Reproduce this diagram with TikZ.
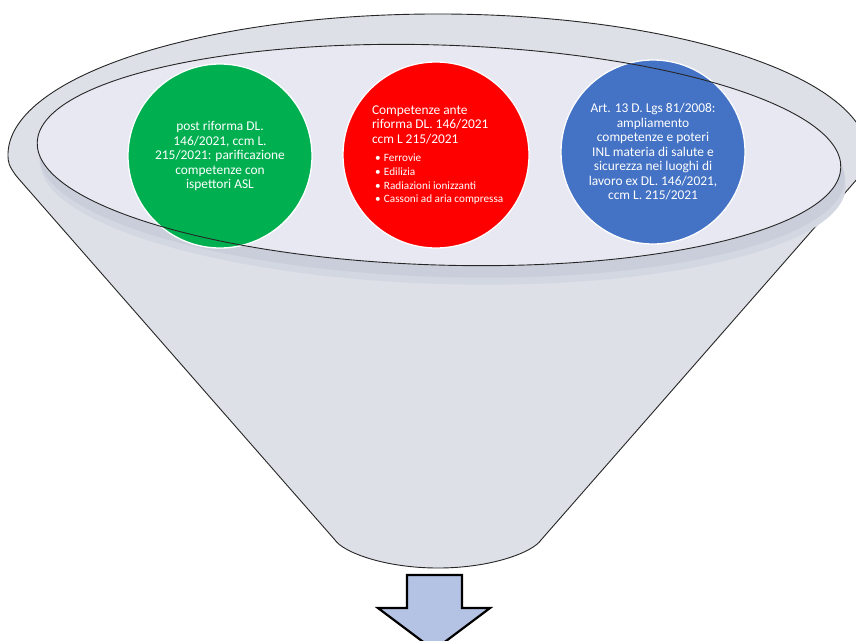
\documentclass[tikz,border=0pt]{standalone}
\usepackage{fontspec}
\setmainfont{Carlito}
\definecolor{funnelc}{HTML}{DDE0E7}
\definecolor{innerc}{HTML}{E7E8F1}
\definecolor{shadowc}{HTML}{C9CEDA}
\definecolor{shadowl}{HTML}{D3D7E1}
\definecolor{arrowc}{HTML}{B4C2E3}
\definecolor{gcirc}{HTML}{00B050}
\definecolor{rcirc}{HTML}{FF0000}
\definecolor{bcirc}{HTML}{4472C4}
\tikzset{
  outline/.style={draw=black!85, line width=0.9pt},
  disc/.style={circle, draw=white, line width=1.3pt, minimum size=184pt, inner sep=0pt, text=white, align=center,
    font=\fontsize{13.4}{14.5}\selectfont},
}
\newcommand{\bulitem}[1]{\mbox{\hspace*{3pt}\makebox[9pt][l]{•}#1}}
\begin{document}
\begin{tikzpicture}[x=1pt,y=-1pt]
\useasboundingbox (0,0) rectangle (856,640);
\clip (0,0) rectangle (856,640);
\fill[white] (0,0) rectangle (856,640);
% funnel body
\draw[outline, fill=funnelc] (335,540) -- (18,178) .. controls (13.65,173) and (8.4,165) .. (8.26,159.9)
  arc[start angle=178, end angle=362, x radius=430, y radius=141]
  .. controls (867.6,165) and (862.35,173) .. (858,178) -- (541,540)
  .. controls (533,552) and (492,568) .. (438,568)
  .. controls (384,568) and (343,552) .. (335,540) -- cycle;
% shadow under the inner rim
\fill[shadowl, rotate around={-1.8:(443,174)}] (443,174) ellipse [x radius=403, y radius=110];
\fill[shadowc, rotate around={-1.8:(442,167)}] (442,167) ellipse [x radius=403, y radius=110];
% inner rim
\fill[innerc, rotate around={-1.8:(439,155)}] (439,155) ellipse [x radius=402, y radius=110];
% circles
\node[disc, fill=gcirc] (green) at (220,156) {post riforma DL.\\146/2021, ccm L.\\215/2021: parificazione\\competenze con\\ispettori ASL};
\node[disc, fill=rcirc, minimum size=186pt] (red) at (436,155) {\begin{minipage}{128pt}\raggedright
\fontsize{13.4}{14.8}\selectfont Competenze ante\\riforma DL. 146/2021\\ccm L 215/2021\par\vspace{4pt}
\fontsize{11.2}{13.8}\selectfont
\bulitem{Ferrovie}\\
\bulitem{Edilizia}\\
\bulitem{Radiazioni ionizzanti}\\
\bulitem{Cassoni ad aria compressa}\par
\end{minipage}};
\node[disc, fill=bcirc] (blue) at (653,152) {Art. 13 D. Lgs 81/2008:\\ampliamento\\competenze e poteri\\INL materia di salute e\\sicurezza nei luoghi di\\lavoro ex DL. 146/2021,\\ccm L. 215/2021};
% inner rim outline
\draw[outline, rotate around={-1.8:(439,155)}] (439,155) ellipse [x radius=402, y radius=110];
% down arrow
\draw[line width=2.2pt, fill=arrowc, line join=miter] (407,575) -- (462,575) -- (462,608) -- (490,608) -- (434,650) -- (378,608) -- (407,608) -- cycle;
\end{tikzpicture}
\end{document}
